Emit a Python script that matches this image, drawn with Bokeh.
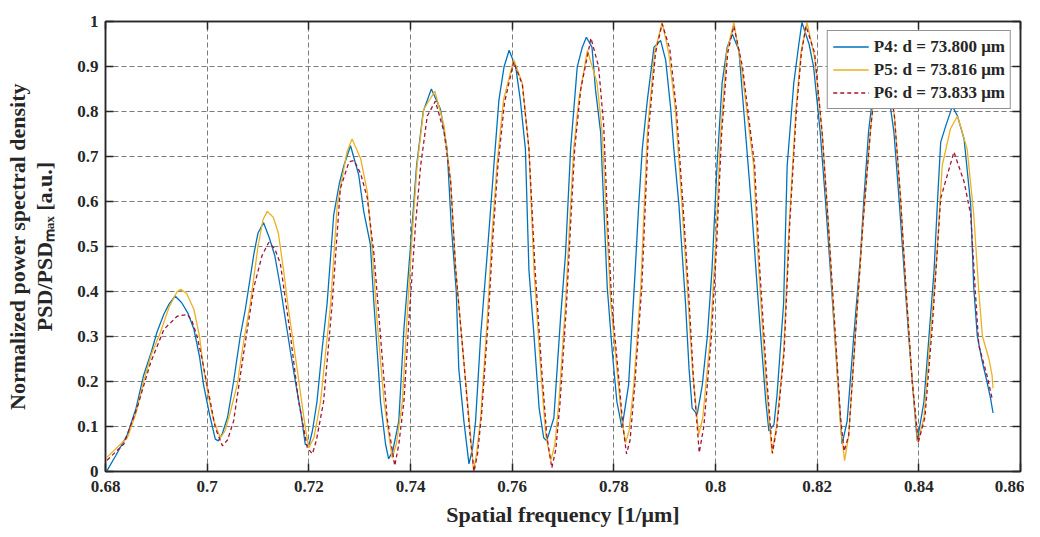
from bokeh.plotting import figure
from bokeh.models import (Range1d, FixedTicker, LinearAxis, CustomJSTickFormatter,
                          Legend, LegendItem)
from bokeh.embed import file_html
from bokeh.resources import INLINE

# ---------------- data ----------------
x_ticks = [0.68, 0.70, 0.72, 0.74, 0.76, 0.78, 0.80, 0.82, 0.84, 0.86]
y_ticks = [0, 0.1, 0.2, 0.3, 0.4, 0.5, 0.6, 0.7, 0.8, 0.9, 1.0]

series_labels = ["P4: d = 73.800 μm", "P5: d = 73.816 μm", "P6: d = 73.833 μm"]

p4_x = [0.6803,0.6820,0.6843,0.6860,0.6875,0.6890,0.6901,0.6915,0.6925,0.6937,
        0.6950,0.6962,0.6974,0.6985,0.6993,0.7005,0.7016,0.7022,0.7030,0.7040,
        0.7052,0.7065,0.7075,0.7092,0.7100,0.7111,0.7122,0.7133,0.7144,0.7155,
        0.7164,0.7175,0.7184,0.7193,0.7200,0.7207,0.7216,0.7226,0.7236,0.7249,
        0.7260,0.7269,0.7282,0.7298,0.7308,0.7321,0.7328,0.7335,0.7341,0.7351,
        0.7357,0.7365,0.7377,0.7387,0.7400,0.7412,0.7425,0.7441,0.7453,0.7459,
        0.7472,0.7480,0.7490,0.7495,0.7505,0.7515,0.7522,0.7528,0.7538,0.7551,
        0.7564,0.7574,0.7584,0.7594,0.7607,0.7616,0.7626,0.7633,0.7643,0.7653,
        0.7662,0.7668,0.7682,0.7695,0.7705,0.7715,0.7728,0.7738,0.7746,0.7757,
        0.7764,0.7774,0.7787,0.7797,0.7806,0.7816,0.7829,0.7842,0.7849,0.7856,
        0.7866,0.7879,0.7892,0.7902,0.7912,0.7918,0.7928,0.7941,0.7948,0.7954,
        0.7964,0.7974,0.7984,0.7993,0.8003,0.8013,0.8023,0.8033,0.8046,0.8059,
        0.8072,0.8082,0.8089,0.8099,0.8105,0.8115,0.8121,0.8134,0.8141,0.8154,
        0.8164,0.8170,0.8184,0.8193,0.8206,0.8216,0.8226,0.8239,0.8249,0.8259,
        0.8272,0.8285,0.8292,0.8301,0.8312,0.8325,0.8338,0.8351,0.8361,0.8371,
        0.8380,0.8394,0.8397,0.8410,0.8420,0.8430,0.8437,0.8443,0.8453,0.8466,
        0.8476,0.8489,0.8502,0.8508,0.8515,0.8525,0.8534,0.8541,0.8546]
p4_y = [0.002,0.035,0.082,0.140,0.214,0.265,0.309,0.350,0.372,0.390,
        0.375,0.352,0.316,0.255,0.192,0.125,0.072,0.068,0.085,0.120,
        0.200,0.300,0.360,0.484,0.530,0.553,0.520,0.480,0.410,0.330,
        0.265,0.190,0.133,0.060,0.057,0.090,0.155,0.270,0.374,0.571,
        0.640,0.680,0.724,0.660,0.578,0.505,0.374,0.260,0.155,0.060,
        0.028,0.045,0.112,0.316,0.500,0.680,0.800,0.850,0.820,0.805,
        0.717,0.550,0.400,0.228,0.112,0.017,0.050,0.112,0.301,0.484,
        0.680,0.826,0.899,0.936,0.899,0.826,0.717,0.447,0.301,0.141,
        0.075,0.068,0.119,0.338,0.484,0.717,0.899,0.943,0.965,0.943,
        0.848,0.754,0.410,0.265,0.155,0.097,0.192,0.447,0.593,0.717,
        0.826,0.943,0.958,0.914,0.805,0.717,0.593,0.374,0.228,0.141,
        0.127,0.192,0.301,0.447,0.680,0.863,0.943,0.972,0.936,0.754,
        0.571,0.410,0.301,0.155,0.090,0.104,0.170,0.374,0.680,0.863,
        0.950,0.998,0.950,0.899,0.754,0.607,0.447,0.228,0.061,0.112,
        0.301,0.476,0.607,0.754,0.860,0.920,0.860,0.754,0.607,0.447,
        0.301,0.104,0.068,0.155,0.301,0.447,0.607,0.732,0.768,0.812,
        0.790,0.739,0.593,0.410,0.301,0.243,0.200,0.163,0.130]

p5_pts = [(0.6803,0.032),(0.6843,0.075),(0.6860,0.130),(0.6875,0.200),(0.6890,0.260),
          (0.6908,0.309),(0.6925,0.365),(0.6941,0.400),(0.6948,0.405),(0.6960,0.395),
          (0.6974,0.360),(0.6985,0.300),(0.6993,0.228),(0.7003,0.165),(0.7013,0.112),
          (0.7026,0.075),(0.7035,0.090),(0.7045,0.130),(0.7059,0.192),(0.7072,0.290),
          (0.7085,0.374),(0.7100,0.500),(0.7110,0.560),(0.7118,0.578),(0.7130,0.565),
          (0.7140,0.530),(0.7150,0.450),(0.7160,0.360),(0.7177,0.228),(0.7193,0.097),
          (0.7200,0.053),(0.7210,0.075),(0.7223,0.155),(0.7243,0.374),(0.7256,0.593),
          (0.7275,0.710),(0.7285,0.739),(0.7302,0.695),(0.7315,0.622),(0.7325,0.491),
          (0.7334,0.338),(0.7348,0.155),(0.7364,0.030),(0.7372,0.060),(0.7384,0.155),
          (0.7393,0.338),(0.7403,0.520),(0.7413,0.680),(0.7426,0.805),(0.7448,0.845),
          (0.7466,0.768),(0.7479,0.644),(0.7489,0.447),(0.7505,0.243),(0.7518,0.082),
          (0.7524,0.002),(0.7530,0.040),(0.7538,0.119),(0.7551,0.338),(0.7560,0.520),
          (0.7570,0.680),(0.7583,0.826),(0.7603,0.915),(0.7620,0.863),(0.7633,0.717),
          (0.7643,0.447),(0.7656,0.228),(0.7666,0.082),(0.7676,0.024),(0.7684,0.060),
          (0.7692,0.155),(0.7705,0.374),(0.7713,0.550),(0.7721,0.717),(0.7731,0.826),
          (0.7748,0.936),(0.7767,0.863),(0.7777,0.754),(0.7786,0.550),(0.7794,0.374),
          (0.7806,0.228),(0.7816,0.112),(0.7823,0.064),(0.7830,0.090),(0.7839,0.190),
          (0.7853,0.410),(0.7866,0.754),(0.7880,0.930),(0.7895,0.998),(0.7908,0.930),
          (0.7921,0.805),(0.7934,0.593),(0.7945,0.400),(0.7955,0.220),(0.7967,0.082),
          (0.7975,0.120),(0.7990,0.300),(0.8000,0.500),(0.8010,0.750),(0.8022,0.930),
          (0.8036,0.998),(0.8051,0.899),(0.8075,0.680),(0.8085,0.450),(0.8098,0.220),
          (0.8111,0.042),(0.8120,0.100),(0.8134,0.265),(0.8145,0.550),(0.8158,0.800),
          (0.8168,0.930),(0.8180,0.998),(0.8195,0.920),(0.8210,0.750),(0.8222,0.550),
          (0.8235,0.300),(0.8246,0.100),(0.8254,0.024),(0.8262,0.080),(0.8275,0.300),
          (0.8290,0.550),(0.8305,0.760),(0.8318,0.900),(0.8328,0.930),(0.8340,0.880),
          (0.8352,0.790),(0.8364,0.607),(0.8375,0.400),(0.8387,0.200),(0.8398,0.065),
          (0.8410,0.120),(0.8425,0.330),(0.8436,0.490),(0.8446,0.680),(0.8462,0.761),
          (0.8476,0.790),(0.8495,0.717),(0.8508,0.571),(0.8518,0.400),(0.8525,0.301),
          (0.8538,0.250),(0.8544,0.214),(0.8546,0.185)]

p6_pts = [(0.6803,0.025),(0.6836,0.061),(0.6862,0.141),(0.6889,0.243),(0.6915,0.316),
          (0.6941,0.345),(0.6961,0.349),(0.6970,0.335),(0.6980,0.301),(0.6990,0.250),
          (0.7000,0.192),(0.7016,0.097),(0.7030,0.057),(0.7040,0.070),(0.7052,0.112),
          (0.7072,0.265),(0.7092,0.410),(0.7108,0.480),(0.7121,0.509),(0.7133,0.495),
          (0.7144,0.462),(0.7164,0.301),(0.7180,0.155),(0.7197,0.053),(0.7207,0.039),
          (0.7215,0.070),(0.7229,0.155),(0.7246,0.374),(0.7262,0.629),(0.7279,0.688),
          (0.7289,0.691),(0.7302,0.662),(0.7315,0.608),(0.7328,0.484),(0.7341,0.301),
          (0.7354,0.119),(0.7369,0.013),(0.7377,0.060),(0.7387,0.155),(0.7397,0.338),
          (0.7410,0.550),(0.7420,0.680),(0.7433,0.790),(0.7449,0.823),(0.7466,0.754),
          (0.7479,0.644),(0.7489,0.447),(0.7505,0.243),(0.7518,0.070),(0.7525,0.000),
          (0.7532,0.040),(0.7540,0.130),(0.7553,0.338),(0.7562,0.520),(0.7572,0.680),
          (0.7585,0.820),(0.7603,0.910),(0.7620,0.860),(0.7633,0.717),(0.7645,0.450),
          (0.7658,0.228),(0.7668,0.080),(0.7678,0.008),(0.7686,0.050),(0.7694,0.150),
          (0.7707,0.374),(0.7715,0.550),(0.7723,0.717),(0.7735,0.850),(0.7755,0.963),
          (0.7770,0.900),(0.7780,0.770),(0.7788,0.550),(0.7796,0.374),(0.7808,0.228),
          (0.7818,0.100),(0.7825,0.039),(0.7832,0.070),(0.7841,0.190),(0.7855,0.410),
          (0.7868,0.754),(0.7882,0.930),(0.7895,0.995),(0.7910,0.940),(0.7923,0.805),
          (0.7936,0.593),(0.7947,0.400),(0.7957,0.200),(0.7968,0.042),(0.7977,0.100),
          (0.7992,0.300),(0.8002,0.500),(0.8012,0.750),(0.8024,0.930),(0.8036,0.990),
          (0.8053,0.900),(0.8077,0.680),(0.8087,0.450),(0.8100,0.220),(0.8112,0.040),
          (0.8121,0.100),(0.8135,0.265),(0.8146,0.550),(0.8159,0.800),(0.8169,0.930),
          (0.8178,0.990),(0.8195,0.930),(0.8210,0.750),(0.8222,0.550),(0.8236,0.300),
          (0.8246,0.120),(0.8253,0.045),(0.8262,0.080),(0.8275,0.300),(0.8290,0.550),
          (0.8305,0.760),(0.8318,0.900),(0.8328,0.930),(0.8340,0.880),(0.8352,0.790),
          (0.8364,0.607),(0.8375,0.400),(0.8387,0.200),(0.8399,0.065),(0.8412,0.120),
          (0.8427,0.330),(0.8443,0.607),(0.8469,0.710),(0.8489,0.644),(0.8502,0.571),
          (0.8510,0.420),(0.8518,0.280),(0.8534,0.214),(0.8544,0.163)]

p5_x = [a for a, b in p5_pts]
p5_y = [b for a, b in p5_pts]
p6_x = [a for a, b in p6_pts]
p6_y = [b for a, b in p6_pts]

# ---------------- figure ----------------
FONT = "Liberation Serif"
DARK = "#262626"
W, H = 1024, 529

p = figure(width=W, height=H, output_backend="svg", toolbar_location=None,
           x_range=Range1d(0.68, 0.86), y_range=Range1d(0, 1),
           min_border_left=105, min_border_right=4, min_border_top=21,
           min_border_bottom=51, background_fill_color="white",
           border_fill_color="white")

p.outline_line_color = DARK
p.outline_line_width = 1.5

bottom_ax = p.below[0]
left_ax = p.left[0]

fmt = CustomJSTickFormatter(code="return Number(tick.toFixed(2)).toString();")
bottom_ax.ticker = FixedTicker(ticks=x_ticks)
left_ax.ticker = FixedTicker(ticks=y_ticks)
bottom_ax.formatter = fmt
left_ax.formatter = fmt

top_ax = LinearAxis(ticker=FixedTicker(ticks=x_ticks), major_label_text_color=None,
                    major_label_text_font_size="0px", major_label_standoff=0)
right_ax = LinearAxis(ticker=FixedTicker(ticks=y_ticks), major_label_text_color=None,
                      major_label_text_font_size="0px", major_label_standoff=0)
p.add_layout(top_ax, "above")
p.add_layout(right_ax, "right")

# outer left axis only carries the first line of the y label
outer_ax = LinearAxis(ticker=FixedTicker(ticks=y_ticks), major_label_text_color=None,
                      major_label_text_font_size="0px", major_label_standoff=0,
                      major_tick_in=0, major_tick_out=0, minor_tick_line_color=None,
                      major_tick_line_color=None, axis_line_color=None,
                      axis_label="Normalized power spectral density",
                      axis_label_standoff=0)
p.add_layout(outer_ax, "left")

for ax in [bottom_ax, left_ax, top_ax, right_ax]:
    ax.major_tick_in = 8
    ax.major_tick_out = 0
    ax.minor_tick_line_color = None
    ax.axis_line_color = DARK
    ax.axis_line_width = 1.5
    ax.major_tick_line_color = DARK
    ax.major_tick_line_width = 1.5

for ax in [bottom_ax, left_ax]:
    ax.major_label_text_font = FONT
    ax.major_label_text_font_style = "bold"
    ax.major_label_text_font_size = "17px"
    ax.major_label_text_color = DARK

bottom_ax.major_label_standoff = 9
left_ax.major_label_standoff = 7
bottom_ax.axis_label = "Spatial frequency [1/μm]"
left_ax.axis_label = "PSD/PSDₘₐₓ [a.u.]"
left_ax.axis_label_standoff = 17

for ax in [bottom_ax, left_ax, outer_ax]:
    ax.axis_label_text_font = FONT
    ax.axis_label_text_font_style = "bold"
    ax.axis_label_text_font_size = "22px"
    ax.axis_label_text_color = DARK
bottom_ax.axis_label_standoff = 7

for g in [p.xgrid[0], p.ygrid[0]]:
    g.grid_line_color = "#7a7a7a"
    g.grid_line_dash = "5 3"
    g.grid_line_width = 1

r4 = p.line(p4_x, p4_y, line_color="#0072BD", line_width=1.3)
r5 = p.line(p5_x, p5_y, line_color="#EDB120", line_width=1.3)
r6 = p.line(p6_x, p6_y, line_color="#A2142F", line_width=1.3, line_dash="4 3")

legend = Legend(items=[LegendItem(label=series_labels[0], renderers=[r4]),
                       LegendItem(label=series_labels[1], renderers=[r5]),
                       LegendItem(label=series_labels[2], renderers=[r6])],
                location="top_right")
legend.margin = 9
legend.padding = 5
legend.spacing = 2
legend.glyph_width = 36
legend.glyph_height = 21
legend.label_height = 21
legend.label_standoff = 5
legend.label_text_font = FONT
legend.label_text_font_style = "bold"
legend.label_text_font_size = "17px"
legend.label_text_color = DARK
legend.border_line_color = DARK
legend.border_line_width = 1.5
legend.background_fill_color = "white"
legend.background_fill_alpha = 1.0
p.add_layout(legend)

open("out.html", "w").write(file_html(p, INLINE))
